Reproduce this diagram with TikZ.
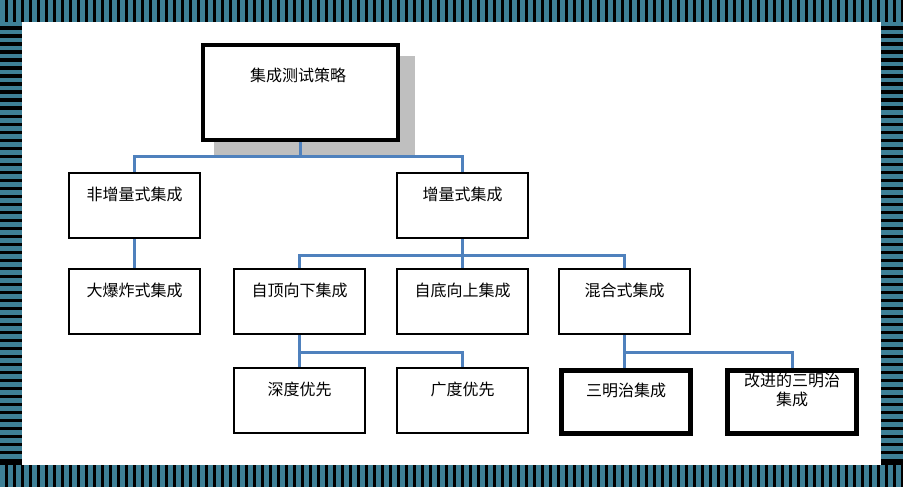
\documentclass[tikz,border=0pt]{standalone}
\usepackage{fontspec}
\setmainfont{Noto Sans CJK SC}
\usetikzlibrary{positioning}
\definecolor{stripeteal}{RGB}{62,128,150}
\definecolor{linkblue}{RGB}{79,129,189}
\tikzset{
  box/.style={draw, line width=2pt, minimum width=131pt, minimum height=65pt,
    anchor=north west, inner sep=0pt},
  label/.style={anchor=north, font=\fontsize{16pt}{19pt}\selectfont, align=center},
  link/.style={linkblue, line width=3pt}
}
\begin{document}
\begin{tikzpicture}[x=1pt,y=-1pt]
  \useasboundingbox (0,0) rectangle (903,487);
  % border bands
  \fill[black] (0,0) rectangle (903,22);
  \fill[black] (0,465) rectangle (903,487);
  \fill[black] (0,0) rectangle (22,487);
  \fill[black] (881,0) rectangle (903,487);
  \foreach \x in {0,8,...,896}
    {\fill[stripeteal] (\x,0) rectangle ++(4.5,22);
     \fill[stripeteal] (\x,465) rectangle ++(4.5,22);}
  \foreach \y in {22,30,...,460}
    {\fill[stripeteal] (0,\y) rectangle ++(22,4.5);
     \fill[stripeteal] (881,\y) rectangle ++(22,4.5);}

  % top node with shadow
  \fill[black!25] (214,56) rectangle (415,156);
  \fill[white] (200,42) rectangle (397,139);
  \node[box, line width=4pt, minimum width=195pt, minimum height=95pt] (root) at (201,43) {};
  \node[label] at (298,64) {集成测试策略};

  % boxes
  \node[box] (nonincr) at (68,172) {};
  \node[box] (incr) at (396,172) {};
  \node[box] (bigbang) at (68,268) {};
  \node[box] (topdown) at (233,268) {};
  \node[box] (bottomup) at (396,268) {};
  \node[box] (mixed) at (558,268) {};
  \node[box] (depth) at (233,367) {};
  \node[box] (breadth) at (396,367) {};
  \node[box, line width=5pt, minimum width=129pt, minimum height=63pt] (sandwich) at (559,368) {};
  \node[box, line width=5pt, minimum width=129pt, minimum height=63pt] (improved) at (725,368) {};

  \node[label] at ([yshift=-11pt]nonincr.north) {非增量式集成};
  \node[label] at ([yshift=-11pt]incr.north) {增量式集成};
  \node[label] at ([yshift=-11pt]bigbang.north) {大爆炸式集成};
  \node[label] at ([yshift=-11pt]topdown.north) {自顶向下集成};
  \node[label] at ([yshift=-11pt]bottomup.north) {自底向上集成};
  \node[label] at ([yshift=-11pt]mixed.north) {混合式集成};
  \node[label] at ([yshift=-11pt]depth.north) {深度优先};
  \node[label] at ([yshift=-11pt]breadth.north) {广度优先};
  \node[label] at ([yshift=-11pt]sandwich.north) {三明治集成};
  \node[label] at ([yshift=-1pt]improved.north) {改进的三明治\\集成};

  % connectors
  \draw[link] (root.south) -- ++(0,14) -| (nonincr.north);
  \draw[link] (root.south) ++(0,14) -| (incr.north);
  \draw[link] (nonincr.south) -- (bigbang.north);
  \draw[link] (incr.south) -- ++(0,16) -| (topdown.north);
  \draw[link] (incr.south) -- (bottomup.north);
  \draw[link] (incr.south) ++(0,16) -| (mixed.north);
  \draw[link] (topdown.south) -- ++(0,17) -| (breadth.north);
  \draw[link] (topdown.south) -- (depth.north);
  \draw[link] (mixed.south) -- ++(0,17) -| (improved.north);
  \draw[link] (mixed.south) |- ++(0,0) -- (mixed.south |- sandwich.north);
\end{tikzpicture}
\end{document}
